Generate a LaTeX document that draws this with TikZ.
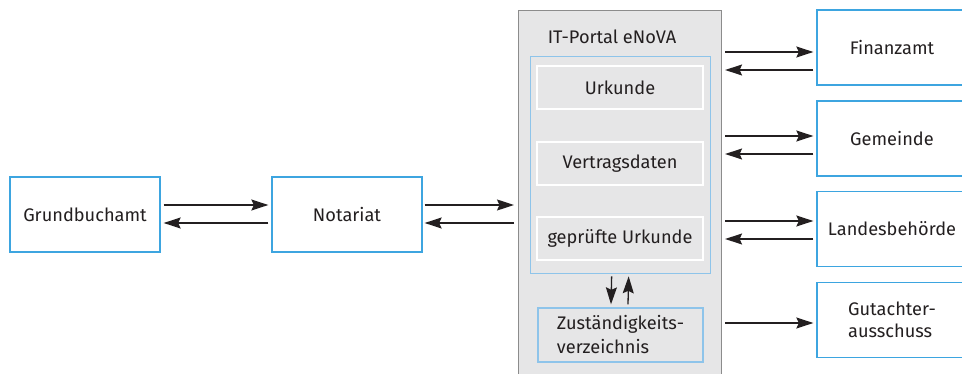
\documentclass[tikz,border=0pt]{standalone}
\usepackage{fontspec}
\setmainfont{Fira Sans}
\usetikzlibrary{arrows.meta,calc}
\definecolor{txt}{HTML}{231F20}
\definecolor{bblue}{HTML}{3DA5E0}
\definecolor{lblue}{HTML}{8EC4EA}
\definecolor{pgray}{HTML}{E6E6E7}
\definecolor{pborder}{HTML}{8C8C8C}
\tikzset{
  ext/.style={draw=bblue, line width=1.3pt, fill=white, minimum width=150pt, minimum height=75pt, inner sep=0pt, text=txt, align=center, font=\fontsize{18.2}{22.5}\selectfont},
  portalbox/.style={draw=pborder, line width=1.1pt, fill=pgray, inner sep=0pt},
  inner/.style={draw=lblue, line width=1.3pt, fill=pgray, inner sep=0pt},
  item/.style={draw=white, line width=1.6pt, fill=pgray, minimum width=166pt, minimum height=43pt, inner sep=0pt, text=txt, font=\fontsize{18.2}{22}\selectfont},
  zust/.style={draw=lblue, line width=1.3pt, fill=pgray, minimum width=165pt, minimum height=54pt, inner sep=0pt, text=txt, align=left, font=\fontsize{18.2}{24}\selectfont},
  lbl/.style={text=txt, font=\fontsize{18.2}{22}\selectfont, inner sep=0pt},
  arr/.style={draw=txt, line width=1.3pt, -{Stealth[length=17pt,width=11pt,inset=2.5pt]}}
}
\begin{document}
\begin{tikzpicture}[x=1pt,y=-1pt]
\useasboundingbox (0,0) rectangle (962,374);
% left boxes
\node[ext] (gb) at (85,214.5) {Grundbuchamt};
\node[ext] (nt) at (347,214.5) {Notariat};
% portal
\node[portalbox, anchor=north west, minimum width=203pt, minimum height=380pt] (portal) at (518,10) {};
\node[lbl] (title) at (612,37) {IT-Portal eNoVA};
\node[inner, anchor=north west, minimum width=180pt, minimum height=217pt] (in) at (530,56) {};
\node[item] (uk) at (620,87.5) {Urkunde};
\node[item] (vd) at (620,163.5) {Vertragsdaten};
\node[item] (gu) at (620,238.5) {geprüfte Urkunde};
\node[zust] (zv) at (620.5,335) {Zuständigkeits-\\verzeichnis};
% right boxes
\node[ext] (fa) at (892,47.5) {Finanzamt};
\node[ext] (ge) at (892,138.5) {Gemeinde};
\node[ext] (lb) at (892,229) {Landesbehörde};
\node[ext, align=left] (ga) at (892,320) {Gutachter-\\ausschuss};
% arrows left
\draw[arr] ($(gb.east)+(3,-9.5)$) -- ($(nt.west)+(-3,-9.5)$);
\draw[arr] ($(nt.west)+(-3,8.5)$) -- ($(gb.east)+(3,8.5)$);
\draw[arr] ($(nt.east)+(2,-9.5)$) -- ($(portal.west|-nt.east)+(-4,-9.5)$);
\draw[arr] ($(portal.west|-nt.east)+(-4,8.5)$) -- ($(nt.east)+(2,8.5)$);
% portal internal
\draw[arr] ($(in.south)+(-9,2)$) -- ($(zv.north)+(-9.5,-3)$);
\draw[arr] ($(zv.north)+(7.5,-3)$) -- ($(in.south)+(8,2)$);
% arrows right
\draw[arr] ($(portal.east|-fa.west)+(3,4.5)$) -- ($(fa.west)+(-3,4.5)$);
\draw[arr] ($(fa.west)+(-3,22.5)$) -- ($(portal.east|-fa.west)+(3,22.5)$);
\draw[arr] ($(portal.east|-ge.west)+(3,-2.5)$) -- ($(ge.west)+(-3,-2.5)$);
\draw[arr] ($(ge.west)+(-3,15.5)$) -- ($(portal.east|-ge.west)+(3,15.5)$);
\draw[arr] ($(portal.east|-lb.west)+(3,-8)$) -- ($(lb.west)+(-3,-8)$);
\draw[arr] ($(lb.west)+(-3,10)$) -- ($(portal.east|-lb.west)+(3,10)$);
\draw[arr] ($(portal.east|-ga.west)+(3,3)$) -- ($(ga.west)+(-3,3)$);
\end{tikzpicture}
\end{document}
